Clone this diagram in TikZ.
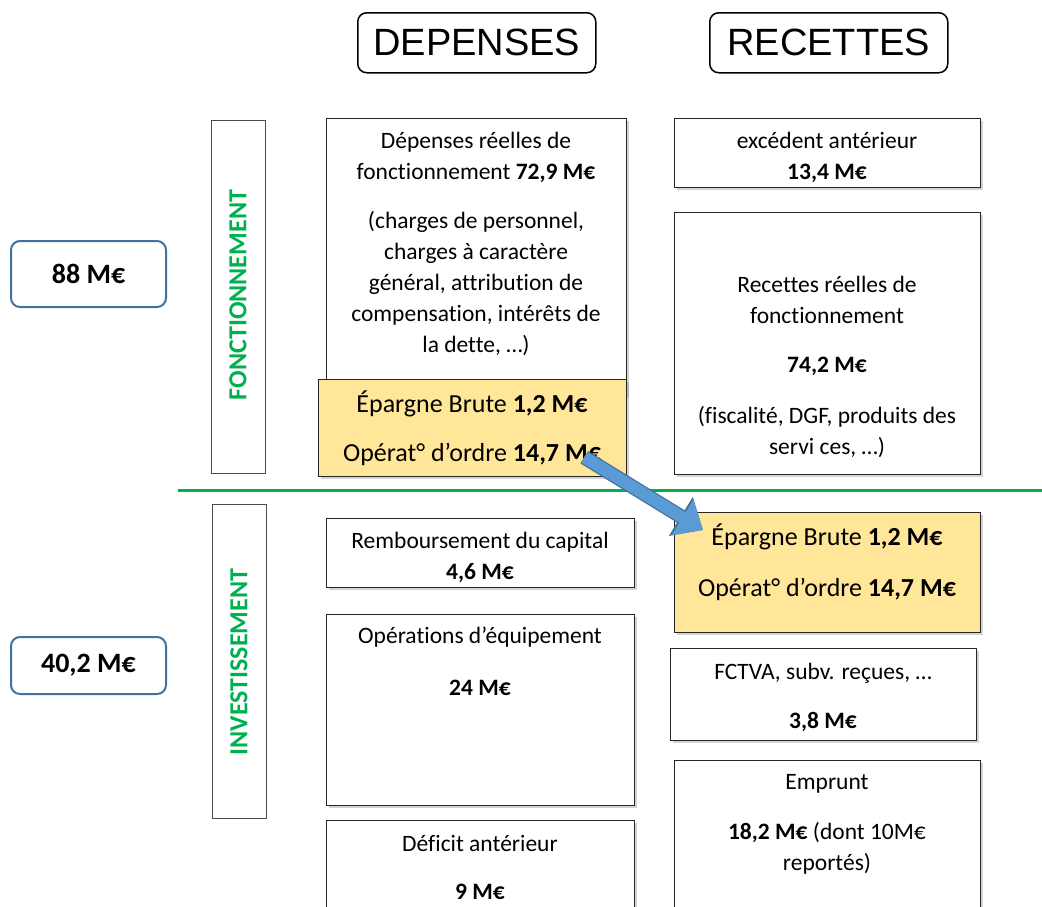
\documentclass[tikz,border=0pt]{standalone}
\usepackage{fontspec}
\setmainfont{Carlito}[Ligatures=NoCommon]
\newfontfamily\headfont{Liberation Sans}
\usetikzlibrary{shadows,arrows.meta,calc}

\definecolor{sepgreen}{HTML}{00B050}
\definecolor{paleyellow}{HTML}{FFE699}
\definecolor{totalblue}{HTML}{41719C}
\definecolor{flowblue}{HTML}{5B9BD5}

\tikzset{
	box/.style={draw=black!85, line width=1.2pt, fill=white, anchor=north west, inner sep=0pt,
		drop shadow={shadow xshift=2.5pt, shadow yshift=-2.5pt, opacity=0.35}},
	savebox/.style={box, fill=paleyellow},
	sidebox/.style={draw=black!70, line width=1pt, anchor=north west, inner sep=0pt},
	head/.style={draw=black, line width=1.5pt, rounded corners=9pt, anchor=north west, inner sep=0pt,
		minimum width=238pt, minimum height=60pt, font=\headfont\fontsize{38}{38}\selectfont},
	total/.style={draw=totalblue, line width=2pt, rounded corners=9pt, anchor=north west, inner sep=0pt,
		minimum width=155pt, font=\bfseries\fontsize{28}{30}\selectfont},
	txt/.style={align=center, inner sep=0pt, font=\fontsize{23.5}{31}\selectfont},
	bigtxt/.style={align=center, inner sep=0pt, font=\fontsize{26}{30}\selectfont},
	sidetxt/.style={rotate=90, inner sep=0pt, text=sepgreen, font=\bfseries\fontsize{26}{26}\selectfont},
	flow/.style={-{Triangle[length=24pt,width=40pt]}, line width=12pt, draw=flowblue,
		preaction={draw=totalblue, line width=14.5pt, -{Triangle[length=26pt,width=44pt]}}}
}

\begin{document}
\begin{tikzpicture}[x=1pt, y=-1pt]
	
	\clip (0,0) rectangle (1042,906);
	
	% column heads
	\node[head] (dep) at (357,12) {DEPENSES};
	\node[head] (rec) at (709,12) {RECETTES};
	
	% totals on the left
	\node[total, minimum height=66pt] (tot1) at (10,240) {88 M€};
	\node[total, minimum height=57pt] (tot2) at (10,636) {40,2 M€};
	
	% section boxes
	\node[sidebox, minimum width=54pt, minimum height=353pt] (fonct) at (211,120) {};
	\node[sidetxt] (fonctlbl) at (238,295) {FONCTIONNEMENT};
	\node[sidebox, minimum width=54pt, minimum height=314pt] (invest) at (212,504) {};
	\node[sidetxt] (investlbl) at (239,662) {INVESTISSEMENT};
	
	% separation
	\coordinate (sepL) at (178,490);
	\coordinate (sepR) at (1042,490);
	\draw[sepgreen, line width=3pt] (sepL) -- (sepR);
	
	% fonctionnement, depenses
	\node[box, minimum width=300pt, minimum height=277pt] (drf) at (326,118) {};
	\node[txt] (drftop) at (476,157) {Dépenses réelles de\\fonctionnement \textbf{72,9 M€}};
	\node[txt] (drfbot) at (476,284) {(charges de personnel,\\charges à caractère\\général, attribution de\\compensation, intérêts de\\la dette, …)};
	\node[savebox, minimum width=308pt, minimum height=97pt] (epL) at (318,379) {};
	\node[bigtxt] (epLtop) at (472,404) {Épargne Brute \textbf{1,2 M€}};
	\node[bigtxt] (epLbot) at (472,454) {Opérat° d’ordre \textbf{14,7 M€}};
	
	% fonctionnement, recettes
	\node[box, minimum width=306pt, minimum height=69pt] (exc) at (674,118) {};
	\node[txt] (exctxt) at (827,157) {excédent antérieur\\\textbf{13,4 M€}};
	\node[box, minimum width=306pt, minimum height=262pt] (rrf) at (674,212) {};
	\node[txt] (rrftop) at (827,300) {Recettes réelles de\\fonctionnement};
	\node[txt] (rrfval) at (827,366) {\textbf{74,2 M€}};
	\node[txt] (rrfbot) at (827,432) {(fiscalité, DGF, produits des\\servi ces, …)};
	
	% investissement, depenses
	\node[box, minimum width=308pt, minimum height=69pt] (remb) at (326,518) {};
	\node[txt] (rembtxt) at (480,557) {Remboursement du capital\\\textbf{4,6 M€}};
	\node[box, minimum width=308pt, minimum height=191pt] (equip) at (326,614) {};
	\node[txt] (equiptop) at (480,637) {Opérations d’équipement};
	\node[txt] (equipval) at (480,688) {\textbf{24 M€}};
	\node[box, minimum width=308pt, minimum height=120pt] (defi) at (326,820) {};
	\node[txt] (defitop) at (480,843) {Déficit antérieur};
	\node[txt] (defival) at (480,892) {\textbf{9 M€}};
	
	% investissement, recettes
	\node[savebox, minimum width=306pt, minimum height=120pt] (epR) at (674,512) {};
	\node[bigtxt] (epRtop) at (827,537) {Épargne Brute \textbf{1,2 M€}};
	\node[bigtxt] (epRbot) at (827,589) {Opérat° d’ordre \textbf{14,7 M€}};
	\node[box, minimum width=306pt, minimum height=92pt] (fctva) at (670,648) {};
	\node[txt] (fctvatop) at (823,673) {FCTVA, subv. reçues, …};
	\node[txt] (fctvaval) at (823,722) {\textbf{3,8 M€}};
	\node[box, minimum width=306pt, minimum height=180pt] (empr) at (674,760) {};
	\node[txt] (emprtop) at (827,784) {Emprunt};
	\node[txt] (emprbot) at (827,848) {\textbf{18,2 M€} (dont 10M€\\reportés)};
	
	% transfer
	\coordinate (flowS) at ($(epL.south east)+(-43,-20)$);
	\coordinate (flowE) at ($(epR.north west)+(29,18)$);
	\draw[flow] (flowS) -- (flowE);
	
\end{tikzpicture}
\end{document}
